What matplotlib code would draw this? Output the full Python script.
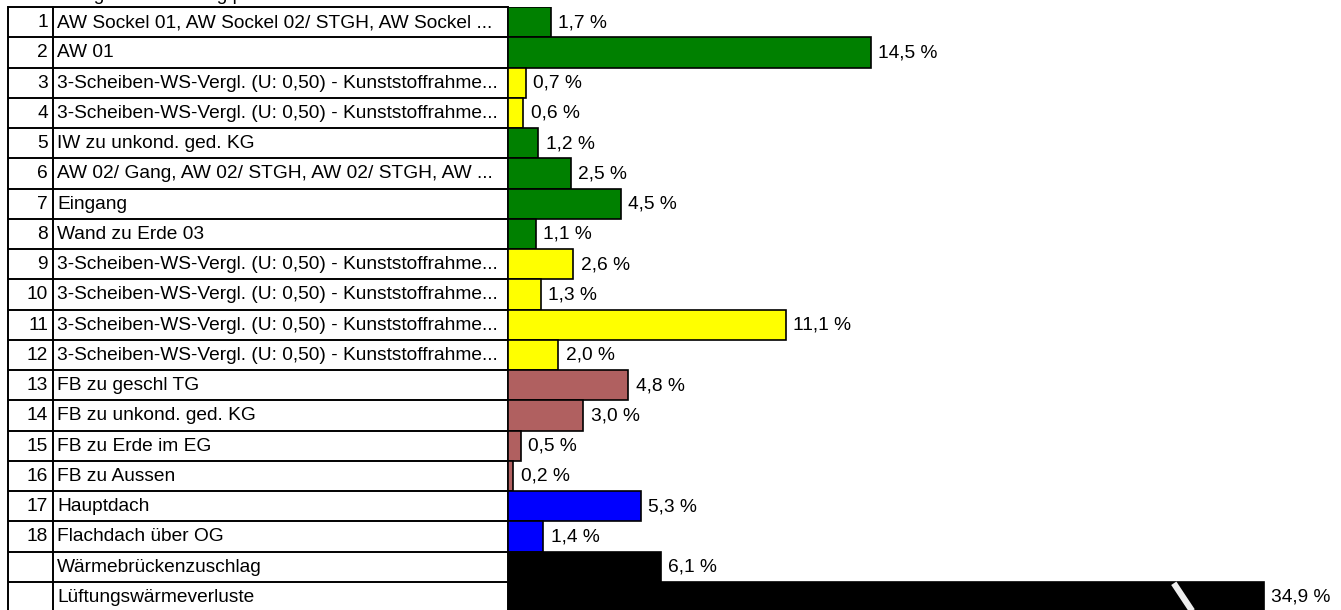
import matplotlib
matplotlib.use("Agg")
import matplotlib.pyplot as plt

plt.rcParams['font.family'] = ['Liberation Sans', 'DejaVu Sans']

# table content and values (percent share of heat losses)
row_numbers = ['1', '2', '3', '4', '5', '6', '7', '8', '9', '10', '11', '12',
               '13', '14', '15', '16', '17', '18', '', '']
row_labels = [
    'AW Sockel 01, AW Sockel 02/ STGH, AW Sockel ...',
    'AW 01',
    '3-Scheiben-WS-Vergl. (U: 0,50) - Kunststoffrahme...',
    '3-Scheiben-WS-Vergl. (U: 0,50) - Kunststoffrahme...',
    'IW zu unkond. ged. KG',
    'AW 02/ Gang, AW 02/ STGH, AW 02/ STGH, AW ...',
    'Eingang',
    'Wand zu Erde 03',
    '3-Scheiben-WS-Vergl. (U: 0,50) - Kunststoffrahme...',
    '3-Scheiben-WS-Vergl. (U: 0,50) - Kunststoffrahme...',
    '3-Scheiben-WS-Vergl. (U: 0,50) - Kunststoffrahme...',
    '3-Scheiben-WS-Vergl. (U: 0,50) - Kunststoffrahme...',
    'FB zu geschl TG',
    'FB zu unkond. ged. KG',
    'FB zu Erde im EG',
    'FB zu Aussen',
    'Hauptdach',
    'Flachdach über OG',
    'Wärmebrückenzuschlag',
    'Lüftungswärmeverluste',
]
shares = [1.7, 14.5, 0.7, 0.6, 1.2, 2.5, 4.5, 1.1, 2.6, 1.3, 11.1, 2.0,
          4.8, 3.0, 0.5, 0.2, 5.3, 1.4, 6.1, 34.9]
groups = ['wall', 'wall', 'window', 'window', 'wall', 'wall', 'wall', 'wall',
          'window', 'window', 'window', 'window', 'floor', 'floor', 'floor',
          'floor', 'roof', 'roof', 'other', 'other']
group_colors = {'wall': '#008000', 'window': '#FFFF00', 'floor': '#B06060',
                'roof': '#0000FF', 'other': '#000000'}

W, H = 1341, 610
row_h = 30.25
top = 7
n = len(shares)
bottom = top + n * row_h
px_per_pct = 25.03
bar_x0 = 508
max_shown = 30.2   # long bar gets cut (break mark)
fs = 13.8

fig = plt.figure(figsize=(W / 100, H / 100), dpi=100)

# clipped heading at the very top (only descenders visible, like the reference)
fig.text(8 / W, 1 + 0.5 / H, 'Darstellung der Verteilung pro Bauteil',
         fontsize=fs, va='baseline', ha='left')

# table
tab = fig.add_axes([8 / W, 1 - bottom / H, (bar_x0 - 8) / W, n * row_h / H])
tab.set_xlim(0, bar_x0 - 8)
tab.set_ylim(n - 0.5, -0.5)
tab.axis('off')
sep = 45
for i in range(n + 1):
    tab.plot([0, bar_x0 - 8], [i - 0.5, i - 0.5], color='black', lw=1.4,
             clip_on=False, solid_capstyle='butt')
for x in (0, sep, bar_x0 - 8):
    tab.plot([x, x], [-0.5, n - 0.5], color='black', lw=1.4, clip_on=False)
for i, (num, lab) in enumerate(zip(row_numbers, row_labels)):
    tab.text(sep - 5, i + 0.02, num, ha='right', va='center', fontsize=fs)
    tab.text(sep + 4, i + 0.02, lab, ha='left', va='center', fontsize=fs)

# bars
ax = fig.add_axes([bar_x0 / W, 1 - bottom / H, (W - bar_x0) / W, n * row_h / H])
ax.set_xlim(0, (W - bar_x0) / px_per_pct)
ax.set_ylim(n - 0.5, -0.5)
ax.axis('off')
shown = [min(v, max_shown) for v in shares]
ax.barh(range(n), shown, height=1.0, left=0,
        color=[group_colors[g] for g in groups], edgecolor='black', lw=1.2)
for i, (v, s) in enumerate(zip(shares, shown)):
    ax.text(s + 0.3, i + 0.02, f'{v:.1f} %'.replace('.', ','),
            ha='left', va='center', fontsize=fs)

# break mark on the cut bar
for i, (v, s) in enumerate(zip(shares, shown)):
    if v > max_shown:
        ax.plot([s - 3.6, s - 2.8], [i - 0.45, i + 0.55], color='#EEEEEE',
                lw=4.5, solid_capstyle='butt', clip_on=False)

fig.savefig('out.png', dpi=100)
